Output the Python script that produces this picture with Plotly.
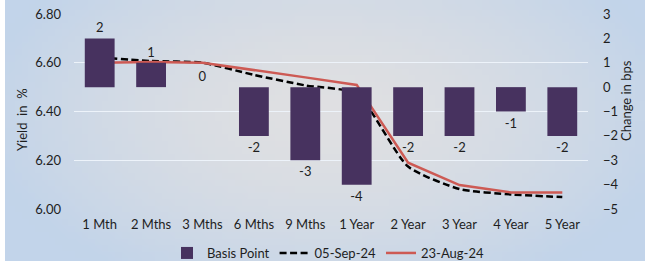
import base64, struct, zlib
import numpy as np
import plotly.graph_objects as go

categories = ["1 Mth", "2 Mths", "3 Mths", "6 Mths", "9 Mths", "1 Year",
              "2 Year", "3 Year", "4 Year", "5 Year"]
basis_point = [2, 1, 0, -2, -3, -4, -2, -2, -1, -2]
sep05 = [6.622, 6.607, 6.600, 6.550, 6.507, 6.472, 6.174, 6.082, 6.060, 6.049]
aug23 = [6.600, 6.603, 6.600, 6.571, 6.540, 6.509, 6.190, 6.098, 6.068, 6.068]
left_ticks = [6.00, 6.20, 6.40, 6.60, 6.80]
right_ticks = [3, 2, 1, 0, -1, -2, -3, -4, -5]

FONT = "Lato"
TXT = "#1e1e1e"


def gradient_png(w=96, h=40):
    center = np.array([0xe0, 0xe0, 0xe2], float)
    edge = np.array([0xc2, 0xd4, 0xea], float)
    yy, xx = np.mgrid[0:h, 0:w]
    cx, cy = w * 0.5, h * 0.42
    t = np.sqrt(((xx - cx) / (w * 0.55)) ** 2 + ((yy - cy) / (h * 0.75)) ** 2)
    t = np.clip(t, 0, 1) ** 1.6
    img = center[None, None, :] * (1 - t[..., None]) + edge[None, None, :] * t[..., None]
    img = img.astype(np.uint8)
    raw = b"".join(b"\x00" + img[r].tobytes() for r in range(h))

    def chunk(tag, data):
        c = struct.pack(">I", len(data)) + tag + data
        return c + struct.pack(">I", zlib.crc32(tag + data) & 0xffffffff)

    png = b"\x89PNG\r\n\x1a\n" + chunk(b"IHDR", struct.pack(">IIBBBBB", w, h, 8, 2, 0, 0, 0)) \
        + chunk(b"IDAT", zlib.compress(raw, 9)) + chunk(b"IEND", b"")
    return "data:image/png;base64," + base64.b64encode(png).decode()


W, H = 654, 261
ML, MR, MT, MB = 74, 66, 14, 52
pw, ph = W - ML - MR, H - MT - MB


def px2x(px):
    return (px - ML) / pw


def py2y(py):
    return (H - MB - py) / ph


fig = go.Figure()

fig.add_trace(go.Bar(
    x=categories, y=basis_point, name="Basis Point", yaxis="y2",
    marker=dict(color="#47325f", line=dict(width=0)), width=0.58,
    text=[str(v) for v in basis_point], textposition="outside",
    textfont=dict(family=FONT, size=13, color=TXT), cliponaxis=False,
))
fig.add_trace(go.Scatter(
    x=categories, y=sep05, name="05-Sep-24", mode="lines",
    line=dict(color="#000000", width=2.5, dash="7px,3.5px", shape="spline", smoothing=0.6),
))
fig.add_trace(go.Scatter(
    x=categories, y=aug23, name="23-Aug-24", mode="lines",
    line=dict(color="#cd5a54", width=2.5),
))

fig.add_layout_image(dict(
    source=gradient_png(), xref="paper", yref="paper",
    x=px2x(5), y=py2y(0), sizex=px2x(645) - px2x(5), sizey=py2y(0) - py2y(H),
    sizing="stretch", layer="below", xanchor="left", yanchor="top",
))

fig.update_layout(
    width=W, height=H, margin=dict(l=ML, r=MR, t=MT, b=MB, autoexpand=False),
    paper_bgcolor="white", plot_bgcolor="rgba(0,0,0,0)",
    font=dict(family=FONT, size=13, color=TXT),
    showlegend=True, bargap=0.42,
    legend=dict(orientation="h", x=px2x(328), xanchor="center", y=py2y(253), yanchor="middle",
                font=dict(family=FONT, size=13, color=TXT), bgcolor="rgba(0,0,0,0)",
                traceorder="normal", itemwidth=30),
    xaxis=dict(showgrid=False, showline=False, ticks="", tickfont=dict(size=13),
               ticklabelstandoff=6, automargin=False),
    yaxis=dict(range=[6.0, 6.8], tickvals=left_ticks, tickformat=".2f",
               showgrid=True, gridcolor="#edf3fa", gridwidth=1, zeroline=False,
               showline=False, ticks="", ticklabelstandoff=12, tickfont=dict(size=13),
               automargin=False),
    yaxis2=dict(range=[-5, 3], tickvals=right_ticks, overlaying="y", side="right",
                showgrid=False, zeroline=False, showline=False, ticks="",
                ticklabelstandoff=14, tickfont=dict(size=13), automargin=False),
    annotations=[
        dict(text="Yield  in  %", textangle=-90, xref="paper", yref="paper",
             x=px2x(22), y=py2y(120), xanchor="center", yanchor="middle",
             showarrow=False, font=dict(size=13, color=TXT)),
        dict(text="Change in bps", textangle=-90, xref="paper", yref="paper",
             x=px2x(626), y=py2y(101), xanchor="center", yanchor="middle",
             showarrow=False, font=dict(size=13, color=TXT)),
    ],
)

fig.write_html("out.html", config={"displayModeBar": False},
               post_script="document.body.style.margin='0';document.body.style.padding='0';document.body.style.overflow='hidden';")
